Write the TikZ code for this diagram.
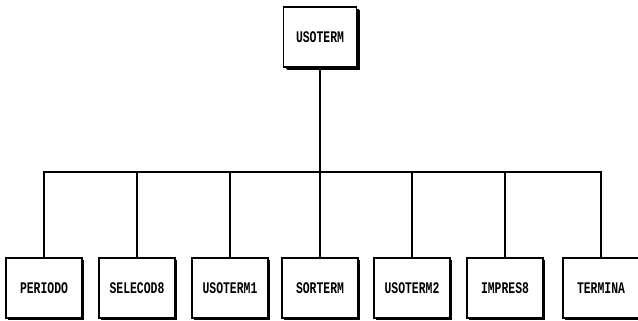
\documentclass[tikz,border=0pt]{standalone}
\usepackage{fontspec}
\newfontfamily\caixafont{Liberation Mono}
\usepackage{tikz}
\usetikzlibrary{shadows}
\newcommand{\rotulo}[1]{\scalebox{0.95}[1.35]{#1}}
\tikzset{
    modulo/.style={draw=black, fill=white, line width=1.6pt, minimum width=76, minimum height=60,
        inner sep=0pt, font=\caixafont\bfseries\fontsize{12}{14}\selectfont,
        drop shadow={shadow xshift=2pt, shadow yshift=-2pt, fill=black, opacity=1}},
    raiz/.style={modulo, minimum width=73, minimum height=60,
        drop shadow={shadow xshift=3.5pt, shadow yshift=-3.5pt, fill=black, opacity=1}},
    ligacao/.style={draw=black, line width=1.3pt}
}

\begin{document}
\begin{tikzpicture}[x=1pt, y=-1pt]
    \useasboundingbox (0,0) rectangle (638,321);
    % Modulo principal
    \node[raiz] (usoterm) at (320,37) {\rotulo{USOTERM}};
    \coordinate (barra) at (320,172);
    \draw[ligacao] (usoterm.south) -- (barra);
    % Submodulos
    \foreach \px/\nome/\txt in {44/periodo/PERIODO, 137/selecod/SELECOD8, 230/usoa/USOTERM1,
        320/sorterm/SORTERM, 412/usob/USOTERM2, 505/impres/IMPRES8, 601/termina/TERMINA} {
        \node[modulo] (\nome) at (\px,288) {\rotulo{\txt}};
        \draw[ligacao] (barra) -| (\nome.north);
    }
\end{tikzpicture}
\end{document}
